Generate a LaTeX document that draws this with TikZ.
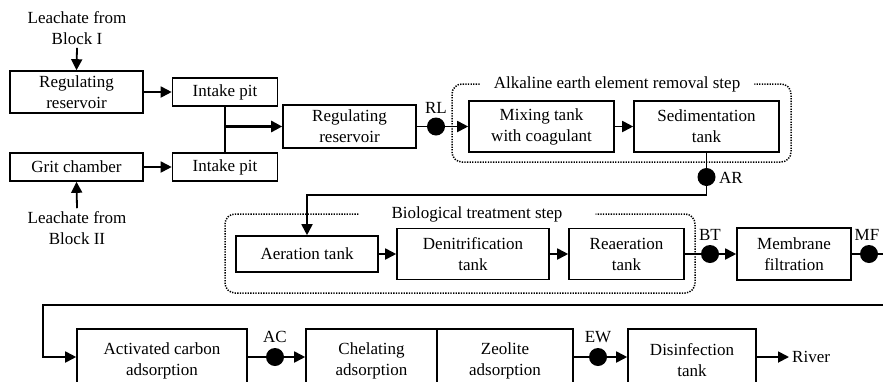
\documentclass[tikz,border=0pt]{standalone}
\usepackage{fontspec}
\setmainfont{Liberation Serif}
\usetikzlibrary{arrows.meta}
\begin{document}
\begin{tikzpicture}[x=1pt,y=-1pt,
  font=\fontsize{17}{21}\selectfont,
  box/.style={draw,line width=1.6pt,align=center,inner sep=0pt},
  flow/.style={line width=1.8pt,-{Triangle[length=11pt,width=11pt]}},
  conn/.style={line width=1.8pt},
  dotbox/.style={line width=1.5pt,dash pattern=on 1.3pt off 1.3pt,rounded corners=10pt},
  sample/.style={circle,fill,inner sep=0pt,minimum size=18pt},
  tag/.style={inner sep=0pt},
]
\useasboundingbox (0,0) rectangle (883,381);
\clip (0,0) rectangle (883,381);

% inputs
\node[tag,align=center,inner sep=3pt] (l1) at (77,28) {Leachate from\\Block I};
\node[tag,align=center,inner sep=3pt] (l2) at (77,228) {Leachate from\\Block II};

% row 1
\node[box,minimum width=133pt,minimum height=42pt] (rr1) at (76.5,92) {Regulating\\reservoir};
\node[box,minimum width=105pt,minimum height=28pt] (ip1) at (225,92) {Intake pit};
\node[box,minimum width=133pt,minimum height=28pt] (grit) at (76.5,167) {Grit chamber};
\node[box,minimum width=105pt,minimum height=28pt] (ip2) at (225,167) {Intake pit};
\node[box,minimum width=133pt,minimum height=43pt] (rr2) at (349.5,126.5) {Regulating\\reservoir};
\node[box,minimum width=145pt,minimum height=51pt] (mix) at (541.5,126.5) {Mixing tank\\with coagulant};
\node[box,minimum width=145pt,minimum height=51pt] (sed) at (706.5,126.5) {Sedimentation\\tank};

% row 2
\node[box,minimum width=142pt,minimum height=36pt] (aer) at (307,254) {Aeration tank};
\node[box,minimum width=152pt,minimum height=51pt] (den) at (473,254) {Denitrification\\tank};
\node[box,minimum width=115pt,minimum height=51pt] (rea) at (626.5,254) {Reaeration\\tank};
\node[box,minimum width=114pt,minimum height=52pt] (mem) at (794,254) {Membrane\\filtration};

% row 3
\coordinate (rowc) at (0,357);
\node[box,minimum width=170pt,minimum height=63pt] (ac) at (162,360.5) {Activated carbon\\adsorption};
\node[box,minimum width=131pt,minimum height=63pt] (chel) at (371.5,360.5) {Chelating\\adsorption};
\node[box,minimum width=136pt,minimum height=63pt] (zeo) at (505,360.5) {Zeolite\\adsorption};
\node[box,minimum width=128pt,minimum height=63pt] (dis) at (692,360.5) {Disinfection\\tank};
\node[tag,anchor=west,inner sep=3pt] (river) at (789,357) {River};

% step frames
\node[tag,inner xsep=14pt] (alk) at (617,84) {Alkaline earth element removal step};
\draw[dotbox] (alk.west) -- (452,84) -- (452,162) -- (791,162) -- (791,84) -- (alk.east);
\node[tag,inner xsep=33pt] (bio) at (477,214) {Biological treatment step};
\draw[dotbox] (bio.west) -- (225,214) -- (225,293) -- (695,293) -- (695,214) -- (bio.east);

% sampling points
\node[sample] (rl) at (436,126.5) {};
\node[tag] (rlt) at (436,108) {RL};
\node[sample] (ar) at (706.5,177) {};
\node[tag] (art) at (731,178) {AR};
\node[sample] (bt) at (710,254) {};
\node[tag] (btt) at (710,235) {BT};
\node[sample] (mf) at (869,254) {};
\node[tag] (mft) at (867,235) {MF};
\node[sample] (acd) at (275,357) {};
\node[tag] (act) at (275,337) {AC};
\node[sample] (ew) at (598,357) {};
\node[tag] (ewt) at (598,337) {EW};

% connectors
\draw[flow] (l1.south) -- (rr1.north);
\draw[flow] (l2.north) -- (grit.south);
\draw[flow] (rr1.east) -- (ip1.west);
\draw[flow] (grit.east) -- (ip2.west);
\draw[conn] (ip1.south) -- (ip2.north);
\draw[flow,line width=2.6pt] (ip1.south |- rr2.west) -- (rr2.west);
\draw[conn] (rr2.east) -- (rl.center);
\draw[flow] (rl.center) -- (mix.west);
\draw[flow] (mix.east) -- (sed.west);
\coordinate (arturn) at (706.5,195);
\draw[flow] (sed.south) -- (arturn) -| (aer.north);
\draw[flow] (aer.east) -- (den.west);
\draw[flow] (den.east) -- (rea.west);
\draw[conn] (rea.east) -- (bt.center);
\draw[flow] (bt.center) -- (mem.west);
\coordinate (e1) at (900,254);
\coordinate (e2) at (900,305);
\coordinate (e3) at (43,305);
\draw[flow] (mem.east) -- (e1) -- (e2) -- (e3) |- (ac.west |- rowc);
\draw[conn] (ac.east |- rowc) -- (acd.center);
\draw[flow] (acd.center) -- (chel.west |- rowc);
\draw[conn] (zeo.east |- rowc) -- (ew.center);
\draw[flow] (ew.center) -- (dis.west |- rowc);
\draw[flow] (dis.east |- rowc) -- (river.west);
\end{tikzpicture}
\end{document}
